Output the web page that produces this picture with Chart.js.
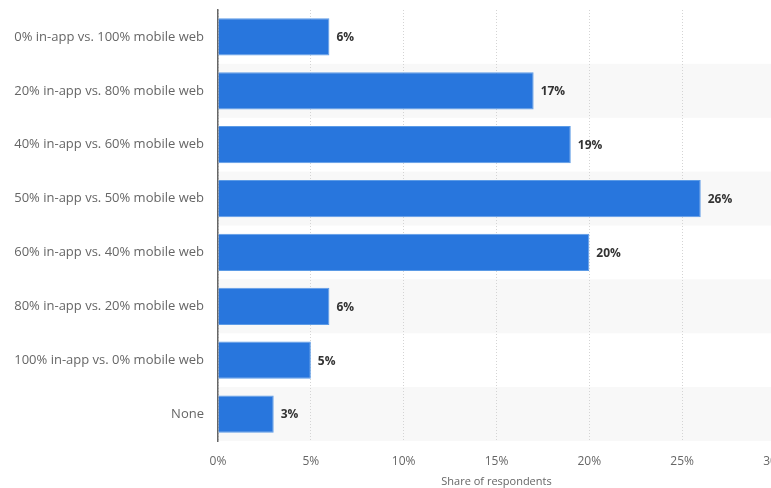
<!DOCTYPE html>
<html><head><meta charset="utf-8">
<script src="https://cdn.jsdelivr.net/npm/chart.js@4/dist/chart.umd.min.js"></script>
<style>html,body{margin:0;padding:0;overflow:hidden;background:#fff}#wrap{width:800px;height:488px;position:relative}</style>
</head><body><div id="wrap"><canvas id="c"></canvas></div>
<script>
const categories = ["0% in-app vs. 100% mobile web","20% in-app vs. 80% mobile web","40% in-app vs. 60% mobile web","50% in-app vs. 50% mobile web","60% in-app vs. 40% mobile web","80% in-app vs. 20% mobile web","100% in-app vs. 0% mobile web","None"];
const values = [6,17,19,26,20,6,5,3];
const xTicks = [0,5,10,15,20,25,30];
const axisTitle = "Share of respondents";

const FONT = "'Open Sans', 'DejaVu Sans', sans-serif";

const bandsUnder = {
  id: 'bandsUnder',
  beforeDraw(chart) {
    const {ctx, chartArea, scales} = chart;
    const y = scales.y;
    if (!y) return;
    ctx.save();
    ctx.fillStyle = '#f8f8f8';
    const half = Math.abs(y.getPixelForValue(1) - y.getPixelForValue(0)) / 2;
    for (let i = 1; i < categories.length; i += 2) {
      const c = y.getPixelForValue(i);
      ctx.fillRect(chartArea.left, c - half, chart.width - chartArea.left, half * 2);
    }
    ctx.restore();
  }
};
const labelsPlugin = {
  id: 'vlabels',
  afterDatasetsDraw(chart) {
    const {ctx} = chart;
    const meta = chart.getDatasetMeta(0);
    ctx.save();
    ctx.font = "bold 12px " + FONT;
    ctx.fillStyle = '#333';
    ctx.textBaseline = 'middle';
    ctx.textAlign = 'left';
    meta.data.forEach((bar, i) => {
      ctx.fillText(values[i] + '%', bar.x + 7, bar.y + 1);
    });
    ctx.restore();
  }
};

new Chart(document.getElementById('c'), {
  type: 'bar',
  data: {
    labels: categories,
    datasets: [{
      data: values,
      backgroundColor: '#2876dd',
      borderColor: '#5c9be6',
      borderWidth: 1,
      borderSkipped: 'left',
      barPercentage: 0.69,
      categoryPercentage: 1
    }]
  },
  options: {
    indexAxis: 'y',
    responsive: true,
    maintainAspectRatio: false,
    animation: false,
    layout: { padding: { top: 10, right: 25, left: 0, bottom: 0 } },
    plugins: { legend: { display: false }, tooltip: { enabled: false } },
    scales: {
      x: {
        min: 0, max: 30,
        afterBuildTicks(s) { s.ticks = xTicks.map(v => ({value: v})); },
        afterFit(s) { s.height = 47; s.paddingLeft = 0; s.paddingRight = 0; },
        grid: { color: '#d4d4d4', borderDash: [1, 2], drawTicks: false, lineWidth: 1 },
        border: { display: false, dash: [1,2] },
        ticks: { color: '#666', font: { family: FONT, size: 12 }, padding: 13, callback: v => v + '%' },
        title: { display: true, text: axisTitle, color: '#666', font: { family: FONT, size: 11 }, padding: { top: 0, bottom: 0 } }
      },
      y: {
        afterFit(s) { s.width = 218; s.paddingTop = 0; s.paddingBottom = 0; },
        grid: { display: false, drawTicks: false },
        border: { display: true, color: '#666', width: 1.5 },
        ticks: { color: '#666', font: { family: FONT, size: 13 }, padding: 14 }
      }
    }
  },
  plugins: [bandsUnder, labelsPlugin]
});
</script></body></html>
